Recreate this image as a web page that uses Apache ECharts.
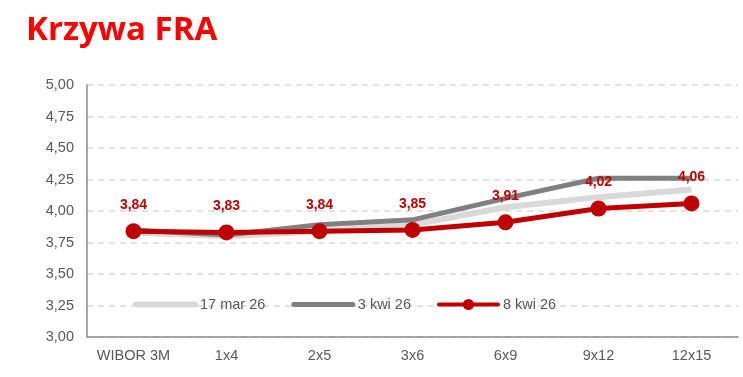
<!DOCTYPE html>
<html>
<head>
<meta charset="utf-8">
<script src="https://cdn.jsdelivr.net/npm/echarts@6/dist/echarts.min.js"></script>
<style>
  html, body { margin: 0; padding: 0; background: #fff; }
  #chart { width: 743px; height: 377px; }
</style>
</head>
<body>
<div id="chart"></div>
<script>
    // dane
    var categories = ['WIBOR 3M', '1x4', '2x5', '3x6', '6x9', '9x12', '12x15'];
    var mar17 = [3.83, 3.80, 3.84, 3.89, 4.03, 4.11, 4.17];
    var kwi3 = [3.85, 3.81, 3.89, 3.93, 4.10, 4.26, 4.26];
    var kwi8 = [3.84, 3.83, 3.84, 3.85, 3.91, 4.02, 4.06];
    var yTicks = [3.00, 3.25, 3.50, 3.75, 4.00, 4.25, 4.50, 4.75, 5.00];

    // liczba z przecinkiem
    function fmt(v) {
        return Number(v).toFixed(2).replace('.', ',');
    }

    var chart = echarts.init(document.getElementById('chart'));
    var font = 'Liberation Sans, Arial, sans-serif';

    chart.setOption({
        animation: false,
        title: {
            text: 'Krzywa FRA',
            left: 21,
            top: 9,
            textStyle: { color: '#ff0000', fontSize: 33, fontWeight: 'bold', fontFamily: 'Open Sans' }
        },
        legend: {
            left: 133,
            top: 297,
            padding: 0,
            itemWidth: 59,
            itemHeight: 14,
            itemGap: 26,
            textStyle: { color: '#595959', fontSize: 14.5, fontFamily: font },
            data: [
                { name: '17 mar 26', itemStyle: { opacity: 0 }, lineStyle: { width: 6, cap: 'round' } },
                { name: '3 kwi 26', itemStyle: { opacity: 0 }, lineStyle: { width: 5, cap: 'round' } },
                { name: '8 kwi 26', lineStyle: { width: 4, cap: 'round' } }
            ]
        },
        grid: { left: 87, right: 5, top: 85, bottom: 40 },
        xAxis: {
            type: 'category',
            data: categories,
            axisLine: { lineStyle: { color: '#8c8c8c', width: 1.5 } },
            axisTick: { show: false },
            axisLabel: { color: '#595959', fontSize: 14.5, fontFamily: font, margin: 11, interval: 0 }
        },
        yAxis: {
            type: 'value',
            min: yTicks[0],
            max: yTicks[yTicks.length - 1],
            interval: 0.25,
            axisLine: { show: true, lineStyle: { color: '#8c8c8c', width: 1.5 } },
            axisTick: { show: false },
            axisLabel: { color: '#595959', fontSize: 14.5, fontFamily: font, margin: 13, formatter: fmt },
            splitLine: { lineStyle: { color: '#d9d9d9', type: [6, 5], width: 1.5 } }
        },
        series: [{
            name: '17 mar 26',
            type: 'line',
            data: mar17,
            symbol: 'none',
            lineStyle: { color: '#d9d9d9', width: 6 },
            itemStyle: { color: '#d9d9d9' }
        }, {
            name: '3 kwi 26',
            type: 'line',
            data: kwi3,
            symbol: 'none',
            lineStyle: { color: '#808080', width: 5 },
            itemStyle: { color: '#808080' }
        }, {
            name: '8 kwi 26',
            type: 'line',
            data: kwi8,
            symbol: 'circle',
            symbolSize: 16,
            lineStyle: { color: '#c00000', width: 5 },
            itemStyle: { color: '#c00000' },
            label: {
                show: true,
                position: 'top',
                distance: 11,
                color: '#c00000',
                fontSize: 14,
                fontWeight: 'bold',
                fontFamily: font,
                formatter: function(p) { return fmt(p.value); }
            }
        }]
    });
</script>
</body>
</html>
